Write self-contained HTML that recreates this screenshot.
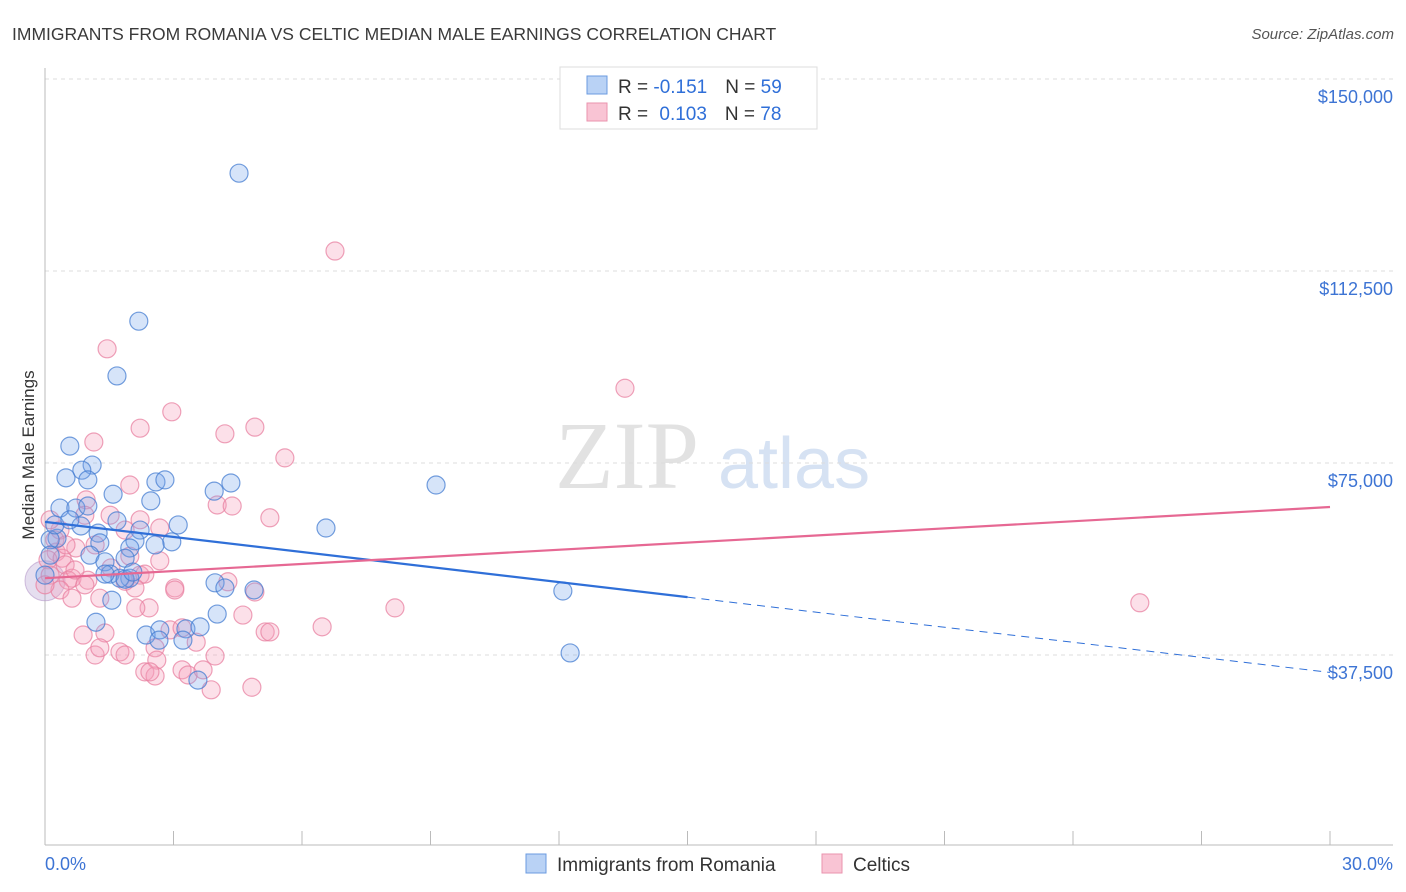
<!DOCTYPE html>
<html><head><meta charset="utf-8">
<style>
body{margin:0;background:#fff;font-family:"Liberation Sans",sans-serif;}
svg{display:block}
</style></head>
<body>
<svg id="chart" width="1406" height="892" viewBox="0 0 1406 892" xmlns="http://www.w3.org/2000/svg">
<text x="12" y="40" font-size="17.5" fill="#3a3a3a">IMMIGRANTS FROM ROMANIA VS CELTIC MEDIAN MALE EARNINGS CORRELATION CHART</text>
<text x="1394" y="39" font-size="15" fill="#555" font-style="italic" text-anchor="end">Source: ZipAtlas.com</text>
<g>
<text x="555" y="488" font-family="Liberation Serif,serif" font-size="96" fill="#e2e2e2">ZIP</text>
<text x="718" y="488" font-size="72" fill="#d6e2f3">atlas</text>
</g>
<g id="grid"></g>
<g id="axes"></g>
<g id="pts"></g>
<g id="lines"></g>
<text transform="translate(34,455) rotate(-90)" font-size="17" fill="#333" text-anchor="middle">Median Male Earnings</text>
<g>
<rect x="560" y="67" width="257" height="62" fill="#fff" stroke="#ddd"/>
<rect x="587" y="76" width="20" height="18" fill="#b9d2f5" stroke="#6b9be0"/>
<rect x="587" y="103" width="20" height="18" fill="#f9c4d4" stroke="#ea93ae"/>
<text x="618" y="93" font-size="19" fill="#333">R = <tspan fill="#2f6fd8">-0.151</tspan><tspan dx="18">N = </tspan><tspan fill="#2f6fd8">59</tspan></text>
<text x="618" y="120" font-size="19" fill="#333">R = <tspan dx="6" fill="#2f6fd8">0.103</tspan><tspan dx="18">N = </tspan><tspan fill="#2f6fd8">78</tspan></text>
</g>
<g>
<rect x="526" y="854" width="20" height="19" fill="#b9d2f5" stroke="#6b9be0"/>
<text x="557" y="871" font-size="19" fill="#333">Immigrants from Romania</text>
<rect x="822" y="854" width="20" height="19" fill="#f9c4d4" stroke="#ea93ae"/>
<text x="853" y="871" font-size="19" fill="#333">Celtics</text>
</g>
</svg>
<script>
const yTicks=[37500,75000,112500,150000];
const yTickLabels=["$37,500","$75,000","$112,500","$150,000"];
const xTickLabels=["0.0%","30.0%"];
const blueX=[4.53,2.19,1.68,0.58,1.10,0.86,0.49,1.00,2.59,2.80,4.34,3.95,9.13,1.59,2.47,0.35,0.72,1.00,1.68,0.84,3.11,1.24,2.22,6.56,0.28,2.10,1.28,2.96,2.57,1.98,1.05,1.40,1.87,0.12,0.12,0,1.52,1.98,1.75,1.87,1.40,2.05,3.97,4.20,12.09,4.88,1.56,1.19,4.02,2.36,2.68,3.29,3.62,3.22,2.66,12.26,3.57,0.23,0.58];
const blueY=[131600,102700,92000,78300,74600,73600,72100,71700,71300,71700,71100,69500,70700,68900,67600,66200,66200,66600,63700,62700,62900,61300,61900,62300,60300,59800,59400,59600,59000,58400,57000,55700,56400,60000,57000,53100,53300,52500,52500,52300,53300,53700,51600,50600,50000,50200,48200,43900,45500,41400,42400,42600,43000,40400,40400,37900,32600,62900,63900];
const pinkX=[6.77,1.45,13.54,2.96,2.22,4.20,4.90,1.14,5.60,1.98,0.96,4.02,4.37,5.25,1.87,0.35,2.68,0.72,1.17,0.26,0.07,0.40,2.68,1.98,1.54,0.47,0.12,0.63,0.54,2.22,2.33,1.00,0.35,3.03,3.03,4.27,4.90,0.63,1.28,2.10,1.87,0.93,2.43,2.12,4.62,5.14,6.47,8.17,25.56,0.89,1.40,2.92,3.20,3.53,2.57,3.97,1.75,1.17,1.87,1.28,2.61,2.33,2.57,3.20,3.34,3.69,3.88,4.83,5.25,0.12,0.23,2.22,1.52,0.93,0.49,0.70,0,2.45];
const pinkY=[116400,97300,89600,85000,81800,80700,82000,79100,76000,70700,67800,66800,66600,64300,61900,61900,62300,58400,59000,57600,56100,56400,55900,56800,54500,55100,53100,52500,52100,53100,53300,52100,50200,50600,50200,51800,49800,48600,48600,50600,51900,51200,46700,46700,45300,42000,43000,46700,47700,41400,41800,42400,42800,40000,38900,37300,38100,37500,37500,38900,36500,34200,33400,34600,33600,34600,30700,31200,42000,63900,60000,63900,64800,64800,59000,54100,51200,34200];
const blueTrend=[63500,34100];
const pinkTrend=[52500,66400];
const X0=45,X1=1330,YB=847;
const sx=v=>X0+(v/30)*(X1-X0);
const sy=v=>YB-v/37500*192;
const NS="http://www.w3.org/2000/svg";
function mk(tag,attrs,parent){const e=document.createElementNS(NS,tag);for(const k in attrs)e.setAttribute(k,attrs[k]);parent.appendChild(e);return e;}
const grid=document.getElementById('grid'),axes=document.getElementById('axes'),pts=document.getElementById('pts'),lines=document.getElementById('lines');
yTicks.forEach((t,i)=>{
 const l=mk('line',{x1:45,x2:1393,y1:sy(t),y2:sy(t),stroke:'#dcdcdc','stroke-dasharray':'4,4'},grid);
 
 
 const tx=mk('text',{x:1393,y:sy(t)+24,'font-size':18,fill:'#3d74d4','text-anchor':'end'},axes);
 tx.textContent=yTickLabels[i];
 
 
});
mk('line',{x1:45,x2:45,y1:68,y2:845,stroke:'#bbb'},axes);
mk('line',{x1:45,x2:1393,y1:845,y2:845,stroke:'#bbb'},axes);
for(let i=0;i<=10;i++){const x=sx(i*3);const t=mk('line',{x1:x,x2:x,y1:831,y2:845,stroke:'#bbb'},axes);
 
 }
const xl0=mk('text',{x:45,y:870,'font-size':18,fill:'#3d74d4'},axes);xl0.textContent=xTickLabels[0];


const xl1=mk('text',{x:1393,y:870,'font-size':18,fill:'#3d74d4','text-anchor':'end'},axes);xl1.textContent=xTickLabels[1];


function dots(xs,ys,fill,stroke,name){xs.forEach((v,i)=>{const c=mk('circle',{cx:sx(v),cy:sy(ys[i]),r:9,fill:fill,stroke:stroke,'stroke-width':1.2},pts);
 
 });}
const big1=mk('circle',{cx:sx(0),cy:sy(52000),r:20,fill:'rgba(180,160,210,0.35)',stroke:'rgba(180,150,200,0.6)'},pts);


dots(pinkX,pinkY,'rgba(246,160,186,0.32)','rgba(232,130,162,0.75)','celtics-point');
dots(blueX,blueY,'rgba(120,165,235,0.3)','rgba(70,125,210,0.75)','romania-point');
const bx=15,bMid=blueTrend[0]+(blueTrend[1]-blueTrend[0])*bx/30;
const bl=mk('line',{x1:sx(0),y1:sy(blueTrend[0]),x2:sx(bx),y2:sy(bMid),stroke:'#2f6fd8','stroke-width':2.2},lines);


const bd=mk('line',{x1:sx(bx),y1:sy(bMid),x2:sx(30),y2:sy(blueTrend[1]),stroke:'#2f6fd8','stroke-width':1,'stroke-dasharray':'8,6'},lines);


const pl=mk('line',{x1:sx(0),y1:sy(pinkTrend[0]),x2:sx(30),y2:sy(pinkTrend[1]),stroke:'#e66893','stroke-width':2.2},lines);


</script>
</body></html>
